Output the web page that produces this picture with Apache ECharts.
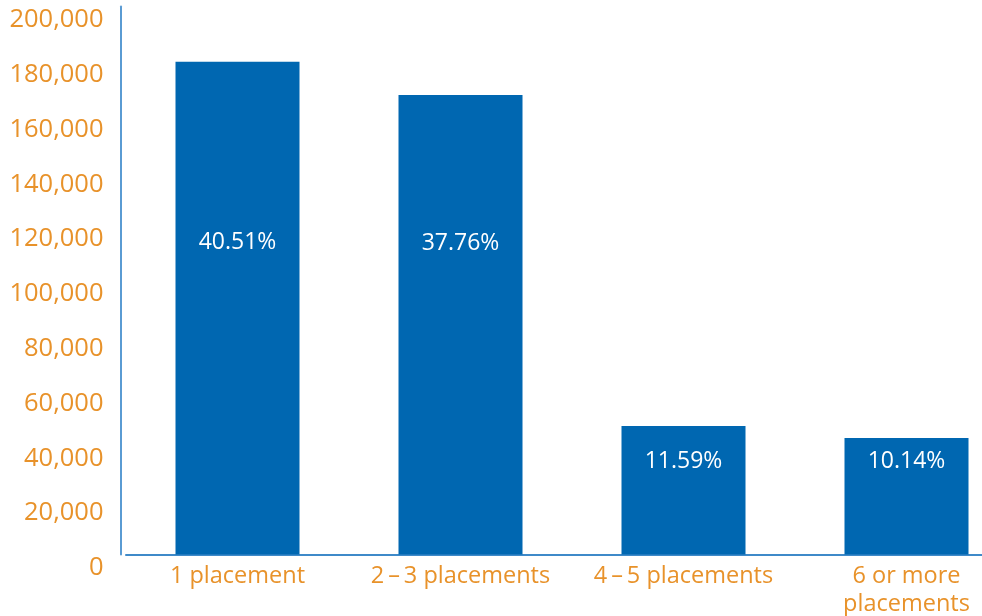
<!DOCTYPE html>
<html>
<head>
<meta charset="utf-8">
<script src="https://cdn.jsdelivr.net/npm/echarts@6/dist/echarts.min.js"></script>
<style>
html,body{margin:0;padding:0;background:#fff;}
#chart{width:982px;height:616px;}
</style>
</head>
<body>
<div id="chart"></div>
<script>
var categories = ['1 placement', '2\u2009\u2013\u20093 placements', '4\u2009\u2013\u20095 placements', '6 or more\nplacements'];
var values = [179800, 167700, 46900, 42500];
var shares = ['40.51%', '37.76%', '11.59%', '10.14%'];
var yTicks = [0, 20000, 40000, 60000, 80000, 100000, 120000, 140000, 160000, 180000, 200000];

var orange = '#E8922A';
var blue = '#0067B1';
var labelTops = [181, 148, 35, 23];

var chart = echarts.init(document.getElementById('chart'), null, {renderer: 'canvas'});
chart.setOption({
  animation: false,
  grid: {left: 126, top: 6.5, width: 892, height: 548, containLabel: false, outerBoundsMode: 'none'},
  xAxis: {
    type: 'category',
    data: categories,
    axisLine: {show: true, lineStyle: {color: '#3F8AC9', width: 2}},
    axisTick: {show: false},
    axisLabel: {
      color: orange, fontFamily: 'Open Sans', fontSize: 23.5, margin: 8,
      lineHeight: 28, interval: 0
    }
  },
  yAxis: {
    type: 'value',
    min: yTicks[0], max: yTicks[yTicks.length - 1], interval: 20000,
    offset: 5.5,
    axisLine: {show: true, lineStyle: {color: '#5A9BD3', width: 2}},
    axisTick: {show: false},
    splitLine: {show: false},
    axisLabel: {
      color: orange, fontFamily: 'Open Sans', fontSize: 25.5, margin: 17,
      verticalAlign: 'top', lineHeight: 27,
      formatter: function (v) { return v.toLocaleString('en-US'); }
    }
  },
  series: [{
    type: 'bar',
    barWidth: 124,
    data: values.map(function (v, i) {
      return {
        value: v,
        label: {
          show: true,
          position: ['50%', labelTops[i]],
          align: 'center', verticalAlign: 'middle',
          formatter: shares[i],
          color: '#fff', fontFamily: 'Open Sans', fontSize: 23
        }
      };
    }),
    itemStyle: {color: blue}
  }]
});
</script>
</body>
</html>
